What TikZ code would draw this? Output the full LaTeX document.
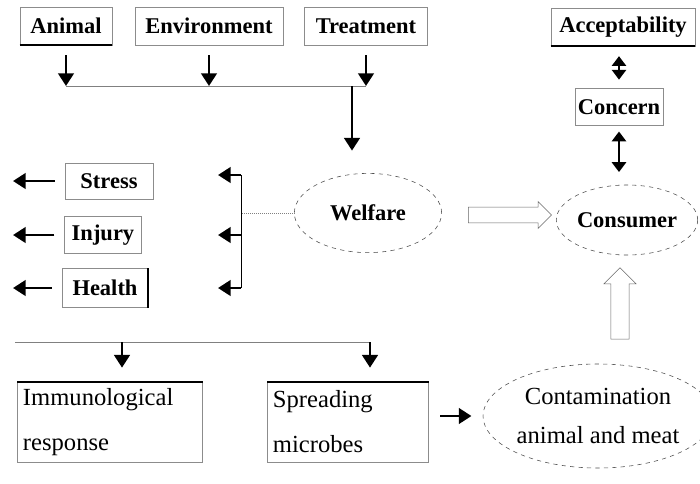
\documentclass[tikz,border=0pt]{standalone}
\usepackage{fontspec}
\setmainfont{Liberation Serif}
\usetikzlibrary{positioning,arrows.meta,shapes.geometric,shapes.arrows}

\begin{document}
\begin{tikzpicture}[x=0.025cm,y=-0.025cm,
    every node/.style={font=\fontsize{16}{19}\selectfont\bfseries},
    box/.style={draw=black!45,thin,inner sep=2pt,minimum height=0.95cm},
    oval/.style={ellipse,draw=black!70,dashed,thin,inner sep=0pt},
    arr/.style={line width=2pt,-{Triangle[width=11pt,length=9pt]}},
    dbl/.style={line width=2pt,{Triangle[width=10pt,length=7pt]}-{Triangle[width=10pt,length=7pt]}},
    hollow/.style={single arrow,draw=black!60,thin},
    rim/.style={line width=1.2pt},
    low/.style={font=\fontsize{17.5}{32}\selectfont}]
    \useasboundingbox (0,0) rectangle (700,483);
    \node[box,minimum width=2.3cm] (animal) at (66,26) {Animal};
    \node[box,minimum width=3.7cm] (env) at (209,26) {Environment};
    \node[box,minimum width=3.08cm] (treat) at (366,26) {Treatment};
    \node[box,minimum width=3.6cm] (accept) at (623,27) {Acceptability};
    \node[box,minimum width=2.2cm,minimum height=0.93cm] (concern) at (619,107) {Concern};
    \node[oval,minimum width=3.68cm,minimum height=1.98cm] (welfare) at (368,213) {Welfare};
    \node[oval,minimum width=3.5cm,minimum height=1.75cm] (consumer) at (627,220) {Consumer};
    \node[box,minimum width=2.2cm,minimum height=0.9cm] (stress) at (109,181) {Stress};
    \node[box,minimum width=1.93cm,minimum height=0.93cm] (injury) at (103,235) {Injury};
    \node[box,minimum width=2.15cm,minimum height=0.98cm] (health) at (105,288) {Health};
    \node[box,low,minimum width=4.63cm,minimum height=2cm,align=left,text width=4.35cm] (immuno) at (110,422) {Immunological\\response};
    \node[box,low,minimum width=4.03cm,minimum height=2cm,align=left,text width=3.75cm] (spread) at (348,422) {Spreading\\microbes};
    \node[oval,font=\fontsize{17.5}{28}\selectfont,align=center,minimum width=5.08cm,minimum height=2.6cm] (contam) at (598,416) {Contamination\\animal and meat};
    \node[hollow,inner sep=0.19cm,minimum height=2.08cm,minimum width=0.65cm,single arrow head extend=0.14cm] (wc) at (506,215) {};
    \node[hollow,inner sep=0.22cm,shape border rotate=90,minimum height=1.78cm,minimum width=0.8cm,single arrow head extend=0.17cm] (cc) at (620,308) {};
    \draw[rim] (animal.south west) -- (animal.south east);
    \draw[rim] (accept.south west) -- (accept.south east);
    \draw[rim] (health.north east) -- (health.south east);
    \draw[rim] (immuno.north west) -- (immuno.north east);
    \draw[rim] (spread.north west) -- (spread.north east);
    \coordinate (jt) at (352,86);
    \draw[arr,shorten <=7pt] (animal.south) -- (animal.south |- jt);
    \draw[arr,shorten <=7pt] (env.south) -- (env.south |- jt);
    \draw[arr,shorten <=7pt] (treat.south) -- (treat.south |- jt);
    \draw[black!50] (animal.south |- jt) -- (treat.south |- jt);
    \draw[arr,shorten >=16pt] (jt) -- (jt |- welfare.north);
    \draw[dbl,shorten <=7pt,shorten >=6pt] (concern.north |- accept.south) -- (concern.north);
    \draw[dbl,shorten <=4pt,shorten >=9pt] (concern.south) -- (concern.south |- consumer.north);
    \coordinate (lft) at (13,0);
    \foreach \n in {stress,injury,health}
      \draw[arr,shorten <=7pt] (\n.west) -- (\n.west -| lft);
    \foreach \y/\n in {175/1,235/2,288/3} {
      \coordinate (b\n) at (241,\y);
      \coordinate (t\n) at (218,\y);
      \draw[arr] (b\n) -- (t\n);
    }
    \draw[thin] (b1) -- (b3);
    \draw[black!50,densely dotted] (welfare.west) -- (welfare.west -| b1);
    \coordinate (bl) at (15,342);
    \coordinate (d1) at (122,342);
    \coordinate (d2) at (370,342);
    \draw[black!50] (bl) -- (d2);
    \draw[arr,shorten >=10pt] (d1) -- (d1 |- immuno.north);
    \draw[arr,shorten >=10pt] (d2) -- (d2 |- spread.north);
    \draw[arr,shorten <=8pt,shorten >=8pt] (spread.east |- contam.west) -- (contam.west);
  \end{tikzpicture}
\end{document}
